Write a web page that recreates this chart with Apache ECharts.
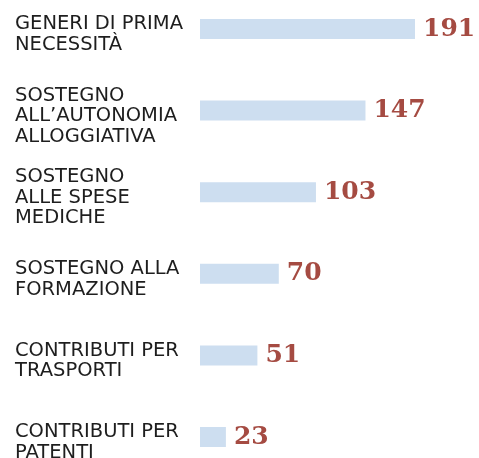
<!DOCTYPE html>
<html>
<head>
<meta charset="utf-8">
<script src="https://cdn.jsdelivr.net/npm/echarts@6/dist/echarts.min.js"></script>
<style>
html,body{margin:0;padding:0;background:#fff;}
#chart{width:479px;height:458px;}
</style>
</head>
<body>
<div id="chart"></div>
<script>
var categories = [
  "GENERI DI PRIMA\nNECESSITÀ",
  "SOSTEGNO\nALL’AUTONOMIA\nALLOGGIATIVA",
  "SOSTEGNO\nALLE SPESE\nMEDICHE",
  "SOSTEGNO ALLA\nFORMAZIONE",
  "CONTRIBUTI PER\nTRASPORTI",
  "CONTRIBUTI PER\nPATENTI"
];
var values = [191, 147, 103, 70, 51, 23];

var chart = echarts.init(document.getElementById('chart'), null, {renderer: 'canvas'});
chart.setOption({
  animation: false,
  backgroundColor: '#ffffff',
  grid: [
    {left: 200, top: 29, width: 215, height: 408, containLabel: false, outerBoundsMode: 'none'},
    {left: 200, top: 34.5, width: 215, height: 408, containLabel: false, outerBoundsMode: 'none'}
  ],
  xAxis: [
    {type: 'value', min: 0, max: 191, show: false, gridIndex: 0},
    {type: 'value', min: 0, max: 191, show: false, gridIndex: 1}
  ],
  yAxis: [
    {
      type: 'category', inverse: true, data: categories, boundaryGap: false, gridIndex: 0,
      axisLine: {show: false}, axisTick: {show: false}, splitLine: {show: false},
      axisLabel: {show: false}
    },
    {
      type: 'category', inverse: true, data: categories, boundaryGap: false, gridIndex: 1,
      axisLine: {show: false}, axisTick: {show: false}, splitLine: {show: false},
      axisLabel: {
        align: 'left', margin: 185, color: '#1e1e1e',
        fontFamily: 'DejaVu Sans', fontSize: 19.5, lineHeight: 20.5
      }
    }
  ],
  series: [{
    type: 'bar', data: values, barWidth: 20, xAxisIndex: 0, yAxisIndex: 0,
    itemStyle: {color: '#cddef0'},
    label: {
      show: true, position: 'right', distance: 8,
      color: '#a54b42', fontFamily: 'DejaVu Serif', fontWeight: 'bold', fontSize: 25
    }
  }]
});
</script>
</body>
</html>
